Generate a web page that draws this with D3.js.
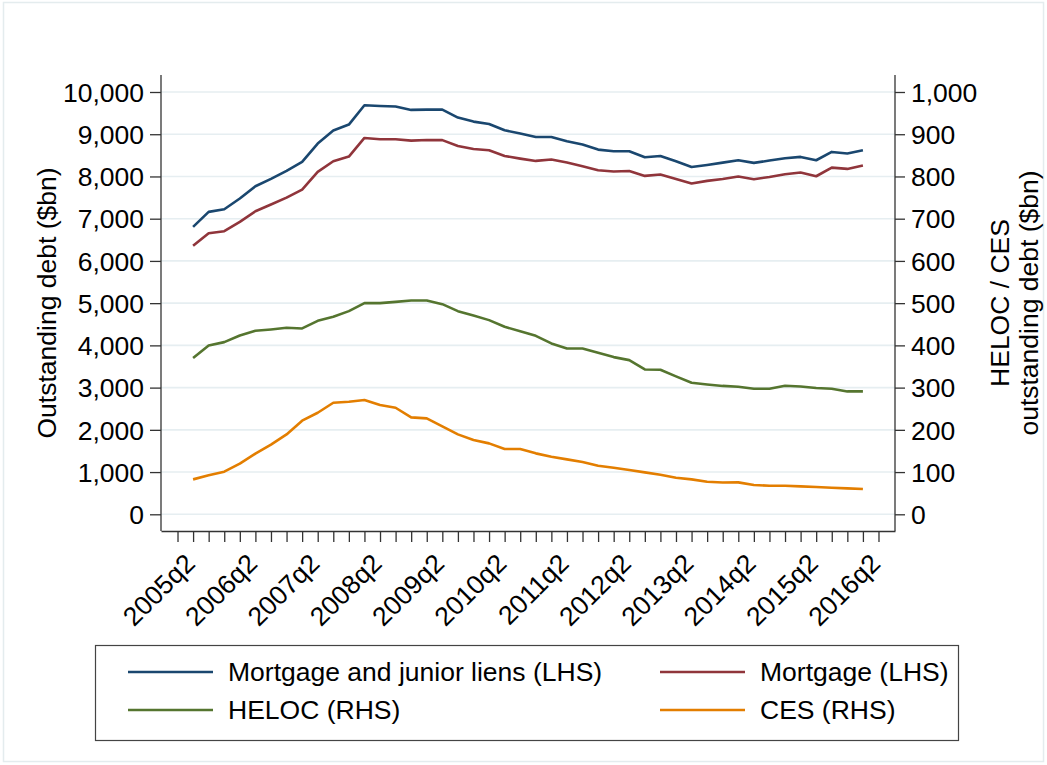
<!DOCTYPE html>
<html>
<head>
<meta charset="utf-8">
<script src="https://cdn.jsdelivr.net/npm/d3@7"></script>
<style>
  html, body { margin: 0; padding: 0; background: #ffffff; }
  svg text { font-family: "Liberation Sans", Arial, Helvetica, sans-serif; fill: #000; }
</style>
</head>
<body>
<svg id="chart" width="1047" height="765"></svg>
<script>
// Quarters with observations
const quarters = [
  "2005q2","2005q3","2005q4","2006q1","2006q2","2006q3","2006q4","2007q1",
  "2007q2","2007q3","2007q4","2008q1","2008q2","2008q3","2008q4","2009q1",
  "2009q2","2009q3","2009q4","2010q1","2010q2","2010q3","2010q4","2011q1",
  "2011q2","2011q3","2011q4","2012q1","2012q2","2012q3","2012q4","2013q1",
  "2013q2","2013q3","2013q4","2014q1","2014q2","2014q3","2014q4","2015q1",
  "2015q2","2015q3","2015q4","2016q1"
];
// Quarters shown on the time axis (one tick each)
const axisQuarters = ["2005q1"].concat(quarters, ["2016q2"]);
const xTickLabels = ["2005q2","2006q2","2007q2","2008q2","2009q2","2010q2",
  "2011q2","2012q2","2013q2","2014q2","2015q2","2016q2"];
const leftTicks = [0,1000,2000,3000,4000,5000,6000,7000,8000,9000,10000];
const rightTicks = [0,100,200,300,400,500,600,700,800,900,1000];

// Outstanding debt, $bn
const mortgageJunior = [
  6806,7161,7224,7477,7768,7942,8131,8344,8779,9087,9229,9685,
  9669,9655,9576,9583,9583,9394,9299,9244,9094,9015,8936,8936,
  8833,8755,8636,8597,8597,8455,8486,8360,8226,8273,8328,8384,
  8321,8376,8431,8463,8384,8581,8542,8620
];
const mortgage = [
  6357,6656,6704,6925,7177,7335,7500,7690,8108,8360,8471,8912,
  8881,8881,8849,8865,8860,8723,8652,8620,8486,8423,8368,8400,
  8329,8242,8147,8116,8131,8013,8045,7942,7832,7895,7940,7997,
  7934,7989,8053,8092,8005,8210,8179,8258
];
const heloc = [
  369.9,399.8,407.7,423.5,434.5,437.7,441.6,440.1,458.2,467.7,481.1,500.0,
  500.0,503.1,506.3,506.3,497.6,481.1,470.8,459.8,444.0,433.7,422.7,404.6,
  392.7,392.7,382.5,372.2,365.1,343.0,342.2,326.5,311.5,307.5,304.0,302.0,
  297.3,297.3,304.4,302.8,298.9,297.3,291.0,291.0
];
const ces = [
  82.7,92.2,100.9,119.8,143.5,164.8,189.2,221.6,240.5,264.1,266.5,270.5,
  258.6,252.3,229.5,227.1,208.2,189.2,175.8,167.9,154.5,154.5,144.3,136.4,
  130.1,123.8,115.1,110.3,104.8,99.3,93.8,86.7,82.7,77.2,75.2,75.6,
  69.3,67.7,67.7,66.2,64.6,63.0,61.5,59.9
];

const series = [
  { name: "Mortgage and junior liens (LHS)", values: mortgageJunior, axis: "left",  color: "#1a476f" },
  { name: "Mortgage (LHS)",                  values: mortgage,       axis: "left",  color: "#90353b" },
  { name: "HELOC (RHS)",                     values: heloc,          axis: "right", color: "#55752f" },
  { name: "CES (RHS)",                       values: ces,            axis: "right", color: "#e37e00" }
];

const fontSize = 26.5;
const svg = d3.select("#chart");
const plot = { left: 161, right: 895, top: 75, bottom: 531 };

// faint outer frame
svg.append("rect")
  .attr("x", 3.5).attr("y", 2.5).attr("width", 1040).attr("height", 759)
  .attr("fill", "none").attr("stroke", "#e4ecee").attr("stroke-width", 1.5);

const x = d3.scalePoint().domain(axisQuarters).range([plot.left, plot.right]).padding(1.06);
const yL = d3.scaleLinear().domain([0, 10000]).range([514.3, 92]);
const yR = d3.scaleLinear().domain([0, 1000]).range([514.3, 92]);

// gridlines
svg.append("g").selectAll("line").data(leftTicks).join("line")
  .attr("x1", plot.left).attr("x2", plot.right)
  .attr("y1", d => yL(d)).attr("y2", d => yL(d))
  .attr("stroke", "#e6eef1").attr("stroke-width", 1.6);

// lines
series.forEach(s => {
  const y = s.axis === "left" ? yL : yR;
  const line = d3.line().x((d, i) => x(quarters[i])).y(d => y(d));
  svg.append("path").datum(s.values)
    .attr("d", line)
    .attr("fill", "none")
    .attr("stroke", s.color)
    .attr("stroke-width", 2.6)
    .attr("stroke-linejoin", "round");
});

const axisColor = "#333";

// left axis
const gL = svg.append("g").attr("transform", `translate(${plot.left},0)`)
  .call(d3.axisLeft(yL).tickValues(leftTicks).tickSize(11).tickPadding(6).tickFormat(d3.format(",")));
gL.select(".domain").remove();
gL.selectAll(".tick line").attr("stroke", axisColor).attr("stroke-width", 1.3);
gL.selectAll(".tick text").attr("font-size", fontSize).attr("dy", "0.35em");
svg.append("line").attr("x1", plot.left).attr("x2", plot.left)
  .attr("y1", plot.top).attr("y2", plot.bottom).attr("stroke", axisColor).attr("stroke-width", 1.3);

// right axis
const gR = svg.append("g").attr("transform", `translate(${plot.right},0)`)
  .call(d3.axisRight(yR).tickValues(rightTicks).tickSize(10).tickPadding(6).tickFormat(d3.format(",")));
gR.select(".domain").remove();
gR.selectAll(".tick line").attr("stroke", axisColor).attr("stroke-width", 1.3);
gR.selectAll(".tick text").attr("font-size", fontSize).attr("dy", "0.35em");
svg.append("line").attr("x1", plot.right).attr("x2", plot.right)
  .attr("y1", plot.top).attr("y2", plot.bottom).attr("stroke", axisColor).attr("stroke-width", 1.3);

// bottom axis
const gB = svg.append("g").attr("transform", `translate(0,${plot.bottom})`)
  .call(d3.axisBottom(x).tickSize(11).tickSizeOuter(0).tickFormat(d => xTickLabels.includes(d) ? d : ""));
gB.select(".domain").attr("stroke", axisColor).attr("stroke-width", 1.3);
gB.selectAll(".tick line").attr("stroke", axisColor).attr("stroke-width", 1.3);
gB.selectAll(".tick text")
  .attr("font-size", fontSize)
  .attr("text-anchor", "end")
  .attr("y", 0).attr("dy", 0)
  .attr("transform", "translate(3,34) rotate(-45)");

// axis titles
svg.append("text")
  .attr("transform", "translate(56,303) rotate(-90)")
  .attr("text-anchor", "middle").attr("font-size", fontSize)
  .text("Outstanding debt ($bn)");
svg.append("text")
  .attr("transform", "translate(1009,303) rotate(-90)")
  .attr("text-anchor", "middle").attr("font-size", fontSize)
  .text("HELOC / CES");
svg.append("text")
  .attr("transform", "translate(1038,303) rotate(-90)")
  .attr("text-anchor", "middle").attr("font-size", fontSize)
  .text("outstanding debt ($bn)");

// legend
const legend = svg.append("g");
legend.append("rect")
  .attr("x", 95.5).attr("y", 645.5).attr("width", 863).attr("height", 95)
  .attr("fill", "#fff").attr("stroke", "#444").attr("stroke-width", 1.2);
const legendPos = [
  { lx: 128, tx: 228, y: 672 },
  { lx: 660, tx: 760, y: 672 },
  { lx: 128, tx: 228, y: 710 },
  { lx: 660, tx: 760, y: 710 }
];
series.forEach((s, i) => {
  const p = legendPos[i];
  legend.append("line")
    .attr("x1", p.lx).attr("x2", p.lx + 85).attr("y1", p.y).attr("y2", p.y)
    .attr("stroke", s.color).attr("stroke-width", 2.6);
  legend.append("text")
    .attr("x", p.tx).attr("y", p.y).attr("dy", "0.35em")
    .attr("font-size", fontSize).text(s.name);
});
</script>
</body>
</html>
